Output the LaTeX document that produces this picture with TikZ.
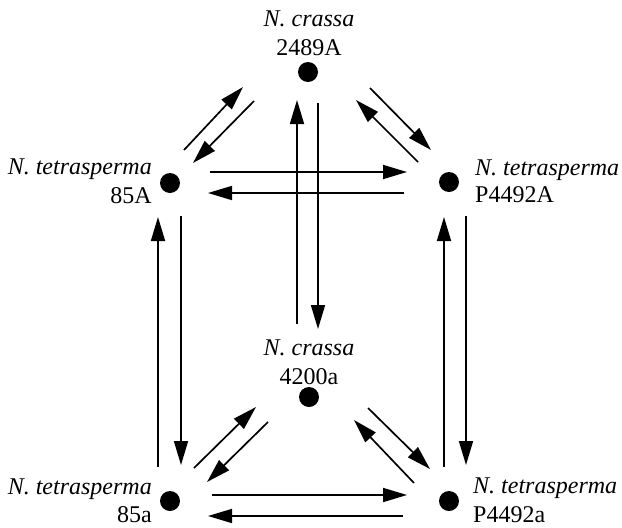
\documentclass[tikz,border=0pt]{standalone}
\usepackage{fontspec}
\setmainfont{Liberation Serif}
\usetikzlibrary{arrows.meta}
\begin{document}
\begin{tikzpicture}[x=1pt,y=-1pt,
  dotnode/.style={circle,fill=black,minimum size=20pt,inner sep=0pt},
  lbl/.style={inner sep=0pt,font=\fontsize{24}{28}\selectfont},
  conn/.style={line width=1.7pt,-{Triangle[length=24pt,width=14pt]}}]
\useasboundingbox (0,0) rectangle (622,528);
% dots
\node[dotnode] (top) at (308,72) {};
\node[dotnode] (tl) at (170,183) {};
\node[dotnode] (tr) at (449,182) {};
\node[dotnode] (mid) at (309,397) {};
\node[dotnode] (bl) at (170,501) {};
\node[dotnode] (br) at (449,501) {};
% labels
\node[lbl,anchor=base] (topa) at (309,26) {\itshape N. crassa};
\node[lbl,anchor=base] (topb) at (309,55) {2489A};
\node[lbl,anchor=base east] (tla) at (152,174) {\itshape N. tetrasperma};
\node[lbl,anchor=base east] (tlb) at (152,203) {85A};
\node[lbl,anchor=base west] (tra) at (475,175) {\itshape N. tetrasperma};
\node[lbl,anchor=base west] (trb) at (475,202) {P4492A};
\node[lbl,anchor=base] (mida) at (309,355) {\itshape N. crassa};
\node[lbl,anchor=base] (midb) at (309,384) {4200a};
\node[lbl,anchor=base east] (bla) at (152,494) {\itshape N. tetrasperma};
\node[lbl,anchor=base east] (blb) at (152,522) {85a};
\node[lbl,anchor=base west] (bra) at (473,493) {\itshape N. tetrasperma};
\node[lbl,anchor=base west] (brb) at (473,522) {P4492a};
% connector end points
\coordinate (h1s) at (210,172); \coordinate (h1e) at (407,172);
\coordinate (h2s) at (404,193); \coordinate (h2e) at (208,193);
\coordinate (h3s) at (212,495); \coordinate (h3e) at (407,495);
\coordinate (h4s) at (403,516); \coordinate (h4e) at (208,516);
\coordinate (v1s) at (158,467); \coordinate (v1e) at (158,217);
\coordinate (v2s) at (181,216); \coordinate (v2e) at (181,465);
\coordinate (v3s) at (444,467); \coordinate (v3e) at (444,217);
\coordinate (v4s) at (466,216); \coordinate (v4e) at (466,465);
\coordinate (v5s) at (297,324); \coordinate (v5e) at (297,100);
\coordinate (v6s) at (318,103); \coordinate (v6e) at (318,329);
\coordinate (d1s) at (184,150); \coordinate (d1e) at (243,87);
\coordinate (d2s) at (254,101); \coordinate (d2e) at (193,163);
\coordinate (d3s) at (370,88); \coordinate (d3e) at (431,150);
\coordinate (d4s) at (418,162); \coordinate (d4e) at (356,100);
\coordinate (d5s) at (194,468); \coordinate (d5e) at (256,407);
\coordinate (d6s) at (268,422); \coordinate (d6e) at (207,482);
\coordinate (d7s) at (368,408); \coordinate (d7e) at (430,469);
\coordinate (d8s) at (414,483); \coordinate (d8e) at (354,420);
% connectors
\foreach \c in {h1,h2,h3,h4,v1,v2,v3,v4,v5,v6,d1,d2,d3,d4,d5,d6,d7,d8}
  \draw[conn] (\c s) -- (\c e);
\end{tikzpicture}
\end{document}
